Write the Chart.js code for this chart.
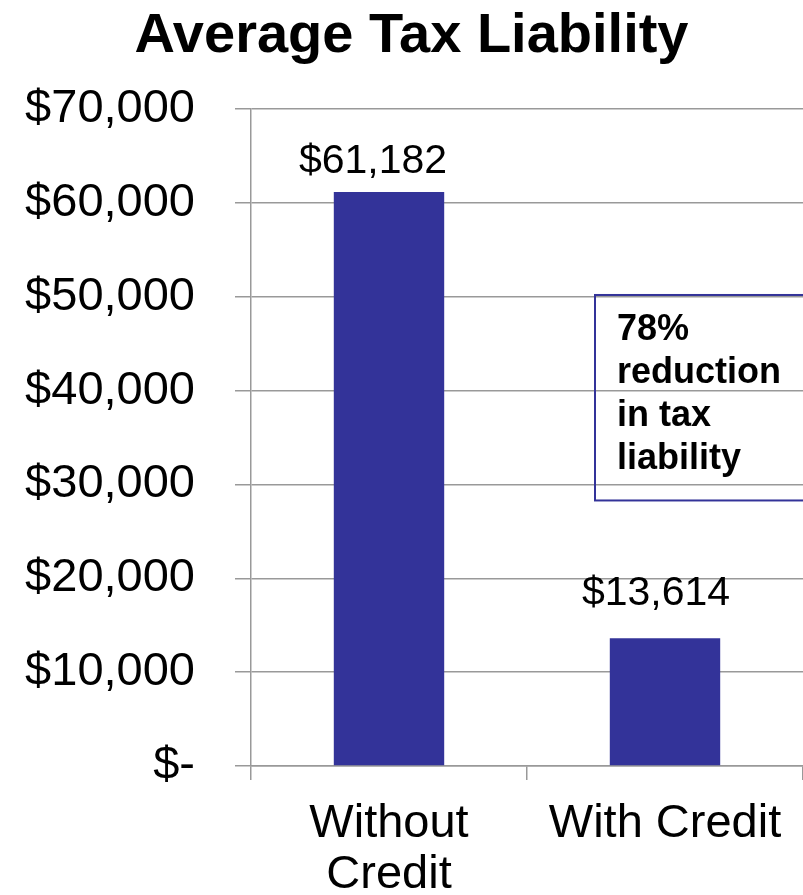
<!DOCTYPE html>
<html>
<head>
<meta charset="utf-8">
<script src="https://cdn.jsdelivr.net/npm/chart.js@4"></script>
<style>
  html, body { margin: 0; padding: 0; background: #fff; }
  #wrap { width: 803px; height: 895px; }
</style>
</head>
<body>
<div id="wrap"><canvas id="taxChart"></canvas></div>
<script>
// chart data
var categories = [["Without", "Credit"], "With Credit"];
var liability = [61182, 13614];
var yTicks = [0, 10000, 20000, 30000, 40000, 50000, 60000, 70000];
var noteLines = ["78%", "reduction", "in tax", "liability"];

var FONT = "'Liberation Sans', Arial, sans-serif";
var BAR = "#333399";
var GRID = "#999999";

// hand-placed nudges for the value labels (dx, gap above bar)
var labelNudge = [[-16, 19], [-9, 33]];

function money(v) {
  if (v === 0) return "$-";
  return "$" + Number(v).toLocaleString("en-US");
}

// value labels above the bars
const valueLabels = {
  id: "valueLabels",
  afterDatasetsDraw(chart) {
    const ctx = chart.ctx;
    const meta = chart.getDatasetMeta(0);
    ctx.save();
    ctx.font = "41px " + FONT;
    ctx.fillStyle = "#000";
    ctx.textAlign = "center";
    ctx.textBaseline = "alphabetic";
    meta.data.forEach((bar, i) => {
      const n = labelNudge[i] || [0, 16];
      ctx.fillText(money(chart.data.datasets[0].data[i]), bar.x + n[0], bar.y - n[1]);
    });
    ctx.restore();
  },
};

// outlined note box on the right
const noteBox = {
  id: "noteBox",
  afterDraw(chart) {
    const { ctx, scales: { x, y } } = chart;
    const left = x.getPixelForValue(1) - 70;
    const top = y.getPixelForValue(50200);
    const bottom = y.getPixelForValue(28300);
    ctx.save();
    ctx.strokeStyle = BAR;
    ctx.lineWidth = 2;
    ctx.strokeRect(left, top, chart.width + 10 - left, bottom - top);
    ctx.font = "bold 36px " + FONT;
    ctx.fillStyle = "#000";
    ctx.textAlign = "left";
    ctx.textBaseline = "middle";
    noteLines.forEach((t, i) => {
      ctx.fillText(t, left + 22, top + 35 + i * 43);
    });
    ctx.restore();
  },
};

const config = {
  type: "bar",
  data: {
    labels: categories,
    datasets: [
      {
        data: liability,
        backgroundColor: BAR,
        borderWidth: 0,
        barPercentage: 0.4,
        categoryPercentage: 1,
      },
    ],
  },
  options: {
    responsive: true,
    maintainAspectRatio: false,
    animation: false,
    layout: { padding: { left: 20, right: 0, top: 3, bottom: 0 } },
    plugins: {
      legend: { display: false },
      tooltip: { enabled: false },
      title: {
        display: true,
        text: "Average Tax Liability",
        color: "#000",
        font: { family: FONT, size: 56, weight: "bold", lineHeight: 1.2 },
        padding: { top: 0, bottom: 39 },
      },
    },
    scales: {
      x: {
        offset: true,
        grid: {
          offset: true,
          drawOnChartArea: false,
          drawTicks: true,
          tickLength: 14,
          color: GRID,
          lineWidth: 1.5,
        },
        border: { color: GRID, width: 1.5 },
        ticks: {
          color: "#000",
          font: { family: FONT, size: 47, lineHeight: 1.085 },
          padding: 19,
          maxRotation: 0,
          autoSkip: false,
        },
        afterFit(scale) {
          scale.height = 129;
        },
      },
      y: {
        min: 0,
        max: 70000,
        afterBuildTicks(scale) {
          scale.ticks = yTicks.map((v) => ({ value: v }));
        },
        grid: {
          color: GRID,
          lineWidth: 1.5,
          tickLength: 16,
        },
        border: { color: GRID, width: 1.5 },
        ticks: {
          color: "#000",
          font: { family: FONT, size: 47 },
          padding: 40,
          callback: (v) => money(v),
        },
        afterFit(scale) {
          scale.width = 231;
        },
      },
    },
  },
  plugins: [valueLabels, noteBox],
};

new Chart(document.getElementById("taxChart"), config);
</script>
</body>
</html>
